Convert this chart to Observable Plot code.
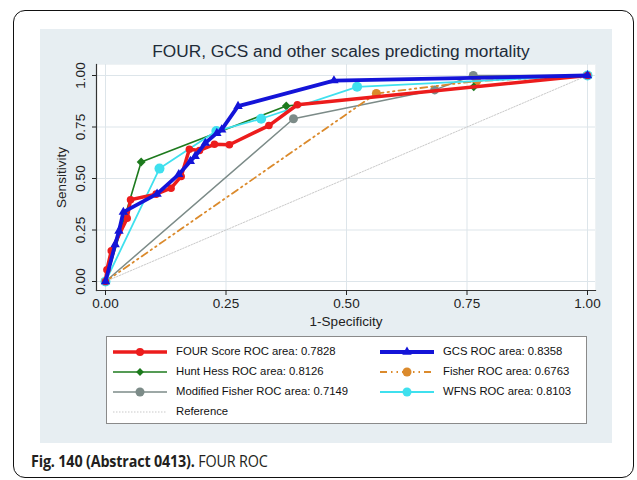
<!DOCTYPE html>
<html>
<head>
<meta charset="utf-8">
<script src="https://cdn.jsdelivr.net/npm/d3@7"></script>
<script src="https://cdn.jsdelivr.net/npm/@observablehq/plot@0.6"></script>
<style>
  html, body { margin: 0; padding: 0; background: #fff; }
  body { width: 637px; height: 480px; position: relative; overflow: hidden; font-family: "Liberation Sans", Arial, sans-serif; }
  #outer { position: absolute; left: 13px; top: 10px; width: 619px; height: 466px; border: 1.5px solid #111; border-radius: 12px; }
  #panel { position: absolute; left: 40px; top: 29px; width: 572px; height: 414px; background: #e7eef2; }
  #title { position: absolute; left: 46px; width: 590px; top: 41px; text-align: center; font-size: 17.3px; color: #1e2b38; }
  #chart { position: absolute; left: 0; top: 0; }
  #legend { position: absolute; left: 106px; top: 336px; width: 479px; height: 86px; background: #fff; border: 1px solid #8a8a8a; }
  .item { position: absolute; font-size: 11.3px; color: #111; height: 16px; }
  .item svg { position: absolute; left: 0; top: 0; }
  .item span { position: absolute; top: 1px; white-space: nowrap; }
  #caption { position: absolute; left: 31px; top: 449px; font-family: "Open Sans", "Noto Sans", sans-serif; font-size: 16.5px; color: #231f20; white-space: nowrap; transform: scaleX(0.87); transform-origin: 0 50%; letter-spacing: -0.2px; }
  #caption b { font-weight: 700; }
</style>
</head>
<body>
<div id="outer"></div>
<div id="panel"></div>
<div id="chart"></div>
<div id="title">FOUR, GCS and other scales predicting mortality</div>
<div id="legend"></div>
<div id="caption"><b>Fig. 140 (Abstract 0413).</b> FOUR ROC</div>
<script>
// ---- data ----
const fourX   = [0, 0.003, 0.012, 0.045, 0.052, 0.105, 0.136, 0.157, 0.174, 0.195, 0.226, 0.257, 0.339, 0.398, 1];
const fourY   = [0, 0.057, 0.149, 0.307, 0.397, 0.424, 0.453, 0.510, 0.642, 0.636, 0.666, 0.664, 0.757, 0.858, 1];
const gcsX    = [0, 0.020, 0.028, 0.037, 0.107, 0.152, 0.176, 0.186, 0.207, 0.231, 0.241, 0.275, 0.474, 1];
const gcsY    = [0, 0.180, 0.245, 0.337, 0.425, 0.520, 0.584, 0.608, 0.672, 0.720, 0.737, 0.851, 0.975, 1];
const huntX   = [0, 0.074, 0.375, 0.764, 1];
const huntY   = [0, 0.580, 0.852, 0.945, 1];
const fisherX = [0, 0.562, 0.770, 1];
const fisherY = [0, 0.913, 0.973, 1];
const mfishX  = [0, 0.390, 0.683, 0.763, 1];
const mfishY  = [0, 0.790, 0.930, 1.000, 1];
const wfnsX   = [0, 0.112, 0.230, 0.323, 0.522, 1];
const wfnsY   = [0, 0.548, 0.730, 0.790, 0.945, 1];
const refX    = [0, 1];
const refY    = [0, 1];
const tickVals = [0, 0.25, 0.5, 0.75, 1];
const tickLabels = ["0.00", "0.25", "0.50", "0.75", "1.00"];
const seriesNames = [
  "FOUR Score ROC area: 0.7828", "GCS ROC area: 0.8358",
  "Hunt Hess ROC area: 0.8126", "Fisher ROC area: 0.6763",
  "Modified Fisher ROC area: 0.7149", "WFNS ROC area: 0.8103",
  "Reference"
];

const toPts = (xs, ys) => xs.map((x, i) => ({x, y: ys[i]}));
const four = toPts(fourX, fourY), gcs = toPts(gcsX, gcsY), hunt = toPts(huntX, huntY),
      fisher = toPts(fisherX, fisherY), mfish = toPts(mfishX, mfishY), wfns = toPts(wfnsX, wfnsY),
      ref = toPts(refX, refY);

const C = {red: "#ec1c1c", blue: "#1414d8", green: "#1d7a1d", orange: "#db8a2c", gray: "#7c8b88", cyan: "#3fe0ee", ref: "#c9c9c9"};
const fisherDash = "7,4,1.5,4,1.5,4";
const fmt = d => tickLabels[tickVals.indexOf(d)];

const chart = Plot.plot({
  width: 637, height: 335,
  marginLeft: 96, marginRight: 42, marginTop: 64, marginBottom: 45,
  style: {background: "transparent", fontFamily: "Liberation Sans, Arial, sans-serif", fontSize: "13.5px", color: "#222"},
  x: {domain: [0, 1], insetLeft: 9, insetRight: 8},
  y: {domain: [0, 1], insetTop: 11, insetBottom: 9},
  marks: [
    Plot.frame({fill: "white", stroke: "#eef2f4"}),
    Plot.gridX(tickVals, {stroke: "#dde5ea", strokeOpacity: 1}),
    Plot.gridY(tickVals, {stroke: "#dde5ea", strokeOpacity: 1}),
    Plot.frame({anchor: "left", stroke: "#333", strokeWidth: 1.2}),
    Plot.frame({anchor: "bottom", stroke: "#333", strokeWidth: 1.2}),
    Plot.axisX(tickVals, {tickFormat: fmt, tickSize: 5, tickPadding: 3, label: "1-Specificity", labelAnchor: "center", labelArrow: "none", labelOffset: 35, fontSize: 13.5}),
    Plot.axisY(tickVals, {tickFormat: fmt, tickSize: 4, tickPadding: 8, tickRotate: -90, label: "Sensitivity", labelAnchor: "center", labelArrow: "none", labelOffset: 40, fontSize: 13.5}),
    Plot.line(ref, {x: "x", y: "y", stroke: C.ref, strokeWidth: 1, strokeDasharray: "1.5,1.5"}),
    Plot.line(mfish, {x: "x", y: "y", stroke: C.gray, strokeWidth: 1.5}),
    Plot.dot(mfish, {x: "x", y: "y", fill: C.gray, r: 4.5}),
    Plot.line(fisher, {x: "x", y: "y", stroke: C.orange, strokeWidth: 1.8, strokeDasharray: fisherDash}),
    Plot.dot(fisher, {x: "x", y: "y", fill: C.orange, r: 4.5}),
    Plot.line(hunt, {x: "x", y: "y", stroke: C.green, strokeWidth: 1.6}),
    Plot.dot(hunt, {x: "x", y: "y", fill: C.green, symbol: "diamond2", r: 4}),
    Plot.line(wfns, {x: "x", y: "y", stroke: C.cyan, strokeWidth: 1.8}),
    Plot.dot(wfns, {x: "x", y: "y", fill: C.cyan, r: 5}),
    Plot.line(four, {x: "x", y: "y", stroke: C.red, strokeWidth: 3.5}),
    Plot.dot(four, {x: "x", y: "y", fill: C.red, r: 3.8}),
    Plot.line(gcs, {x: "x", y: "y", stroke: C.blue, strokeWidth: 3.8}),
    Plot.dot(gcs, {x: "x", y: "y", fill: C.blue, symbol: "triangle2", r: 4.5})
  ]
});
document.getElementById("chart").appendChild(chart);

// ---- legend ----
const legendItems = [
  {col: 0, row: 0, color: C.red, width: 3.5, dash: null, marker: "circle", r: 4},
  {col: 1, row: 0, color: C.blue, width: 3.8, dash: null, marker: "triangle", r: 4.5},
  {col: 0, row: 1, color: C.green, width: 1.6, dash: null, marker: "diamond", r: 3.5},
  {col: 1, row: 1, color: C.orange, width: 1.8, dash: fisherDash, marker: "circle", r: 4.5},
  {col: 0, row: 2, color: C.gray, width: 1.5, dash: null, marker: "circle", r: 4.5},
  {col: 1, row: 2, color: C.cyan, width: 1.8, dash: null, marker: "circle", r: 4.5},
  {col: 0, row: 3, color: C.ref, width: 1, dash: "1.5,1.5", marker: null, r: 0}
];
const legend = document.getElementById("legend");
legendItems.forEach((it, i) => {
  const div = document.createElement("div");
  div.className = "item";
  div.style.left = (it.col === 0 ? 6 : 273) + "px";
  div.style.top = (7 + it.row * 20) + "px";
  div.style.width = "230px";
  const ns = "http://www.w3.org/2000/svg";
  const svg = document.createElementNS(ns, "svg");
  svg.setAttribute("width", 60); svg.setAttribute("height", 16);
  const line = document.createElementNS(ns, "line");
  line.setAttribute("x1", 0); line.setAttribute("x2", 54);
  line.setAttribute("y1", 8); line.setAttribute("y2", 8);
  line.setAttribute("stroke", it.color); line.setAttribute("stroke-width", it.width);
  if (it.dash) line.setAttribute("stroke-dasharray", it.dash);
  svg.appendChild(line);
  if (it.marker) {
    const sym = it.marker === "circle" ? d3.symbolCircle : it.marker === "triangle" ? d3.symbolTriangle2 : d3.symbolDiamond2;
    const p = document.createElementNS(ns, "path");
    p.setAttribute("d", d3.symbol(sym, Math.PI * it.r * it.r)());
    p.setAttribute("transform", "translate(27,8)");
    p.setAttribute("fill", it.color);
    svg.appendChild(p);
  }
  div.appendChild(svg);
  const span = document.createElement("span");
  span.style.left = "63px";
  span.textContent = seriesNames[i];
  div.appendChild(span);
  legend.appendChild(div);
});
</script>
</body>
</html>
